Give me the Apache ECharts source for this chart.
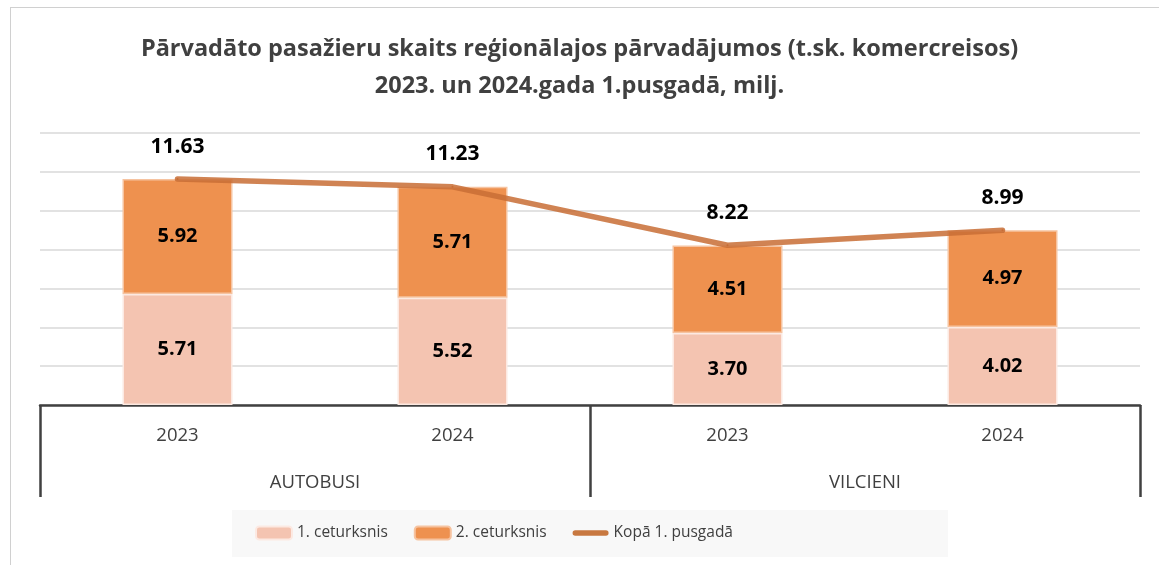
<!DOCTYPE html>
<html>
<head>
<meta charset="utf-8">
<script src="https://cdn.jsdelivr.net/npm/echarts@6/dist/echarts.min.js"></script>
<style>
html,body{margin:0;padding:0;background:#fff;overflow:hidden;}
#frame{position:absolute;left:10px;top:7px;width:1200px;height:700px;border:1.5px solid #d0d0d0;box-sizing:border-box;}
#chart{position:absolute;left:0;top:0;width:1159px;height:565px;}
</style>
</head>
<body>
<div id="frame"></div>
<div id="chart"></div>
<script>
const years = ['2023', '2024', '2023', '2024'];
const groups = ['AUTOBUSI', 'VILCIENI'];
const q1 = [5.71, 5.52, 3.70, 4.02];
const q2 = [5.92, 5.71, 4.51, 4.97];
const total = [11.63, 11.23, 8.22, 8.99];
const seriesNames = ['1. ceturksnis', '2. ceturksnis', 'Kopā 1. pusgadā'];
const titleText = 'Pārvadāto pasažieru skaits reģionālajos pārvadājumos (t.sk. komercreisos)\n2023. un 2024.gada 1.pusgadā, milj.';

const FONT = '"Open Sans", sans-serif';
const chart = echarts.init(document.getElementById('chart'), null, {renderer: 'canvas'});
const labelStyle = {show: true, position: 'inside', color: '#000', fontWeight: 'bold', fontSize: 20, fontFamily: FONT, formatter: p => p.value.toFixed(2)};

chart.setOption({
  animation: false,
  textStyle: {fontFamily: FONT},
  title: {
    text: titleText,
    left: 'center',
    top: 26,
    textStyle: {fontSize: 23.5, fontWeight: 'bold', color: '#404040', lineHeight: 37, fontFamily: FONT}
  },
  graphic: [{
    type: 'rect',
    left: 232, top: 510, z: -10, silent: true,
    shape: {width: 716, height: 47},
    style: {fill: '#f8f8f8'}
  }],
  legend: {
    top: 525,
    left: 255,
    padding: 0,
    itemWidth: 36,
    itemHeight: 13,
    itemGap: 26,
    textStyle: {fontSize: 15.5, color: '#404040', fontFamily: FONT},
    data: [
      {name: seriesNames[0]},
      {name: seriesNames[1]},
      {name: seriesNames[2], icon: 'path://M3,0 H37 A3,3 0 0 1 37,6 H3 A3,3 0 0 1 3,0 Z', itemStyle: {color: '#c87840', opacity: 1}}
    ]
  },
  grid: {left: 40, right: 19, top: 133, bottom: 160, containLabel: false},
  xAxis: [
    {
      type: 'category',
      data: years,
      position: 'bottom',
      axisLine: {show: true, lineStyle: {color: '#404040', width: 2.5}},
      axisTick: {show: false},
      axisLabel: {fontSize: 18.5, color: '#404040', margin: 21, fontFamily: FONT},
      splitLine: {show: false}
    },
    {
      type: 'category',
      data: groups,
      position: 'bottom',
      offset: 92,
      axisLine: {show: false},
      axisTick: {show: true, inside: true, length: 92, lineStyle: {color: '#404040', width: 2.5}},
      axisLabel: {inside: true, fontSize: 18.5, color: '#404040', margin: 5, verticalAlign: 'bottom', fontFamily: FONT},
      splitLine: {show: false}
    }
  ],
  yAxis: {
    type: 'value',
    min: 0,
    max: 14,
    interval: 2,
    axisLabel: {show: false},
    axisLine: {show: false},
    axisTick: {show: false},
    splitLine: {lineStyle: {color: '#d9d9d9', width: 1.5}}
  },
  series: [
    {
      name: seriesNames[0],
      type: 'bar',
      stack: 'a',
      data: q1,
      barWidth: '40%',
      itemStyle: {color: '#f4c4b1', borderColor: '#fce9e2', borderWidth: 1.5},
      label: labelStyle
    },
    {
      name: seriesNames[1],
      type: 'bar',
      stack: 'a',
      data: q2,
      barWidth: '40%',
      itemStyle: {color: '#ee914f', borderColor: '#f6c3a0', borderWidth: 1.5},
      label: labelStyle
    },
    {
      name: seriesNames[2],
      type: 'line',
      data: total,
      symbol: 'circle',
      symbolSize: 2,
      showSymbol: true,
      lineStyle: {color: '#c86d35', width: 5.5, opacity: 0.85, cap: 'round'},
      itemStyle: {color: '#c86d35'},
      label: {show: true, position: 'top', distance: 21, color: '#000', fontWeight: 'bold', fontSize: 21, fontFamily: FONT, formatter: p => p.value.toFixed(2)},
      z: 5
    }
  ]
});
</script>
</body>
</html>
